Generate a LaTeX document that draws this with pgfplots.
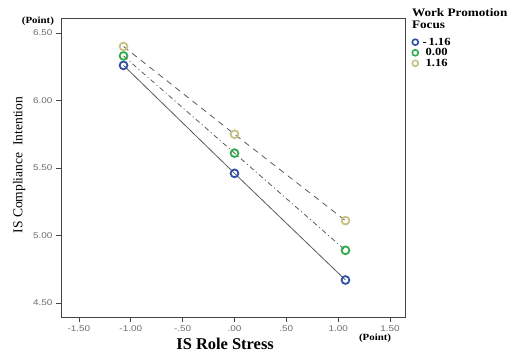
\documentclass[border=0pt]{standalone}
\usepackage{fontspec}
\setmainfont{Liberation Serif}
\newfontfamily\tickfont[FakeStretch=1.2]{Liberation Sans}
\newfontfamily\smallserif[FakeStretch=1.15]{Liberation Serif}
\usepackage{pgfplots}
\pgfplotsset{compat=1.18}
\definecolor{cblue}{HTML}{3050A8}
\definecolor{cgreen}{HTML}{2EAA4A}
\definecolor{ctan}{HTML}{C9C383}
\definecolor{axisgray}{HTML}{444444}
\definecolor{linegray}{HTML}{5A5A5A}
\begin{document}
\begin{tikzpicture}
\useasboundingbox (-61bp,-36bp) rectangle (457bp,317bp);
\begin{axis}[
  scale only axis,
  width=344bp, height=299bp,
  at={(0,0)}, anchor=south west,
  xmin=-1.673, xmax=1.644,
  ymin=4.396, ymax=6.611,
  axis line style={axisgray, line width=0.8bp},
  xtick={-1.5,-1,-0.5,0,0.5,1,1.5},
  xticklabels={-1.50,-1.00,-.50,.00,.50,1.00,1.50},
  ytick={4.5,5,5.5,6,6.5},
  yticklabels={4.50,5.00,5.50,6.00,6.50},
  tick align=outside,
  major tick length=5bp,
  xtick pos=bottom, ytick pos=left,
  tick style={axisgray, line width=0.7bp},
  /pgf/number format/assume math mode=true,
  tick label style={font=\tickfont\fontsize{8.3}{9}\selectfont, text=gray!85!black},
  every axis x label/.style={at={(rel axis cs:0.477,0)}, anchor=center, yshift=-27bp},
  every axis y label/.style={at={(rel axis cs:0,0.508)}, anchor=center, xshift=-42bp, rotate=90},
  xlabel={\bfseries\fontsize{16.5}{18}\selectfont IS Role Stress},
  ylabel={\fontsize{13.6}{15}\selectfont IS Compliance\ \ Intention},
  legend style={at={(rel axis cs:1.012,0.945)}, anchor=north west, draw=none, fill=none,
    font=\smallserif\bfseries\fontsize{11}{11}\selectfont, row sep=-0.6bp,
    nodes={inner sep=1.2bp}},
  legend cell align=left,
  legend image code/.code={\draw[#1] plot coordinates {(0.1cm,0cm)};},
  /tikz/every odd column/.append style={column sep=3bp},
  clip=false,
]
\addplot[linegray, line width=0.8bp, solid, mark=o, mark size=3.9bp,
  mark options={cblue, line width=1.8bp, fill=white, solid}, forget plot]
  coordinates {(-1.07,6.26) (0,5.46) (1.07,4.67)};
\addplot[linegray, line width=0.8bp, dash pattern=on 5bp off 3bp on 1bp off 3bp, mark=o, mark size=3.9bp,
  mark options={cgreen, line width=1.8bp, fill=white, solid}, forget plot]
  coordinates {(-1.07,6.33) (0,5.61) (1.07,4.89)};
\addplot[linegray, line width=0.8bp, dash pattern=on 6bp off 5bp, mark=o, mark size=3.9bp,
  mark options={ctan, line width=1.8bp, fill=white, solid}, forget plot]
  coordinates {(-1.07,6.40) (0,5.75) (1.07,5.11)};
\addlegendimage{only marks, mark=o, mark size=3bp, mark options={cblue, line width=1.6bp, fill=white}}
\addlegendentry{-\,1.16}
\addlegendimage{only marks, mark=o, mark size=3bp, mark options={cgreen, line width=1.6bp, fill=white}}
\addlegendentry{\ 0.00}
\addlegendimage{only marks, mark=o, mark size=3bp, mark options={ctan, line width=1.6bp, fill=white}}
\addlegendentry{\ 1.16}
\node[anchor=west, inner sep=0pt, font=\smallserif\bfseries\fontsize{11.5}{11}\selectfont] at (rel axis cs:1.02,1.017) {Work Promotion};
\node[anchor=west, inner sep=0pt, font=\smallserif\bfseries\fontsize{11.5}{11}\selectfont] at (rel axis cs:1.02,0.978) {Focus};
\node[anchor=center, inner sep=0pt, font=\smallserif\bfseries\fontsize{9.5}{9}\selectfont] at (rel axis cs:-0.067,0.99) {(Point)};
\node[anchor=center, inner sep=0pt, font=\smallserif\bfseries\fontsize{9.5}{9}\selectfont] at (rel axis cs:0.913,-0.07) {(Point)};
\end{axis}
\end{tikzpicture}
\end{document}
